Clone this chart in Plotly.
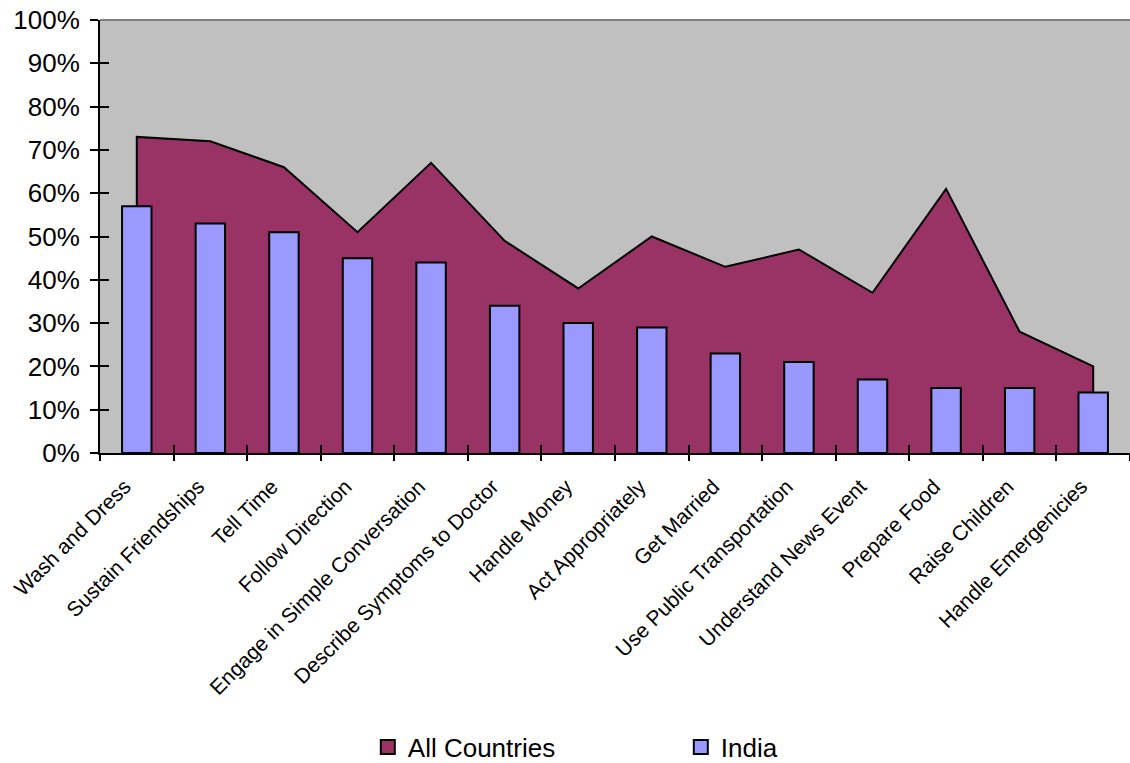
import plotly.graph_objects as go

categories = ["Wash and Dress", "Sustain Friendships", "Tell Time", "Follow Direction",
              "Engage in Simple Conversation", "Describe Symptoms to Doctor", "Handle Money",
              "Act Appropriately", "Get Married", "Use Public Transportation",
              "Understand News Event", "Prepare Food", "Raise Children", "Handle Emergenicies"]
all_countries = [0.73, 0.72, 0.66, 0.51, 0.67, 0.49, 0.38, 0.50, 0.43, 0.47, 0.37, 0.61, 0.28, 0.20]
india = [0.57, 0.53, 0.51, 0.45, 0.44, 0.34, 0.30, 0.29, 0.23, 0.21, 0.17, 0.15, 0.15, 0.14]

FONT = "Liberation Sans, Arial, sans-serif"
MAROON = "#993366"
PERI = "#9999FF"

fig = go.Figure()

# Area (closed polygon so the vertical edges are outlined)
area_x = [categories[0]] + categories + [categories[-1]]
area_y = [0] + all_countries + [0]
fig.add_trace(go.Scatter(x=area_x, y=area_y, mode="lines", fill="toself",
                         fillcolor=MAROON, line=dict(color="black", width=2),
                         showlegend=False, hoverinfo="skip", xaxis="x", yaxis="y"))

# Bars on overlaid axes so they draw above the area
fig.add_trace(go.Bar(x=categories, y=india, width=0.4,
                     marker=dict(color=PERI, line=dict(color="black", width=2)),
                     name="India", showlegend=False, xaxis="x2", yaxis="y2"))

# legend entries (square swatches)
for nm, col in [("All Countries", MAROON), ("India", PERI)]:
    fig.add_trace(go.Scatter(x=[None], y=[None], mode="markers", name=nm,
                             marker=dict(symbol="square", size=14, color=col,
                                         line=dict(color="black", width=2)),
                             xaxis="x2", yaxis="y2"))

n = len(categories)
fig.update_layout(
    width=1130, height=763,
    margin=dict(l=100, r=0, t=20, b=310, autoexpand=False),
    paper_bgcolor="white", plot_bgcolor="#C0C0C0",
    barmode="overlay",
    font=dict(family=FONT, color="black"),
    xaxis=dict(type="category", categoryorder="array", categoryarray=categories,
               range=[-0.5, n - 0.5], tickson="boundaries", ticks="outside", ticklen=6,
               tickwidth=2, tickcolor="black", showline=True, linecolor="black", linewidth=2,
               showgrid=False, tickangle=-45, tickfont=dict(size=21, family=FONT), zeroline=False,
               ticklabelstandoff=11, ticklabelshift=-12),
    yaxis=dict(range=[0, 1], dtick=0.1, tickformat=".0%", ticks="outside", ticklen=8,
               tickwidth=2, tickcolor="black", showline=True, linecolor="black", linewidth=2,
               showgrid=False, zeroline=False, tickfont=dict(size=26, family=FONT),
               ticklabelstandoff=5),
    xaxis2=dict(type="category", categoryorder="array", categoryarray=categories,
                range=[-0.5, n - 0.5], overlaying="x", anchor="y2", side="bottom",
                tickson="boundaries", ticks="inside", ticklen=8, tickwidth=2, tickcolor="black",
                showticklabels=False, showline=False, showgrid=False, zeroline=False),
    yaxis2=dict(range=[0, 1], dtick=0.1, overlaying="y", anchor="x2", side="left",
                ticks="inside", ticklen=9, tickwidth=2, tickcolor="black",
                showticklabels=False, showline=False, showgrid=False, zeroline=False),
    legend=dict(orientation="h", x=0.26, xanchor="left", y=-0.679, yanchor="middle",
                font=dict(size=26, family=FONT), entrywidth=268, entrywidthmode="pixels",
                itemwidth=30, bgcolor="rgba(0,0,0,0)"),
    shapes=[dict(type="line", xref="paper", yref="paper", x0=0, x1=1, y0=1, y1=1,
                 line=dict(color="#808080", width=2))],
)

fig.write_html("out.html")
